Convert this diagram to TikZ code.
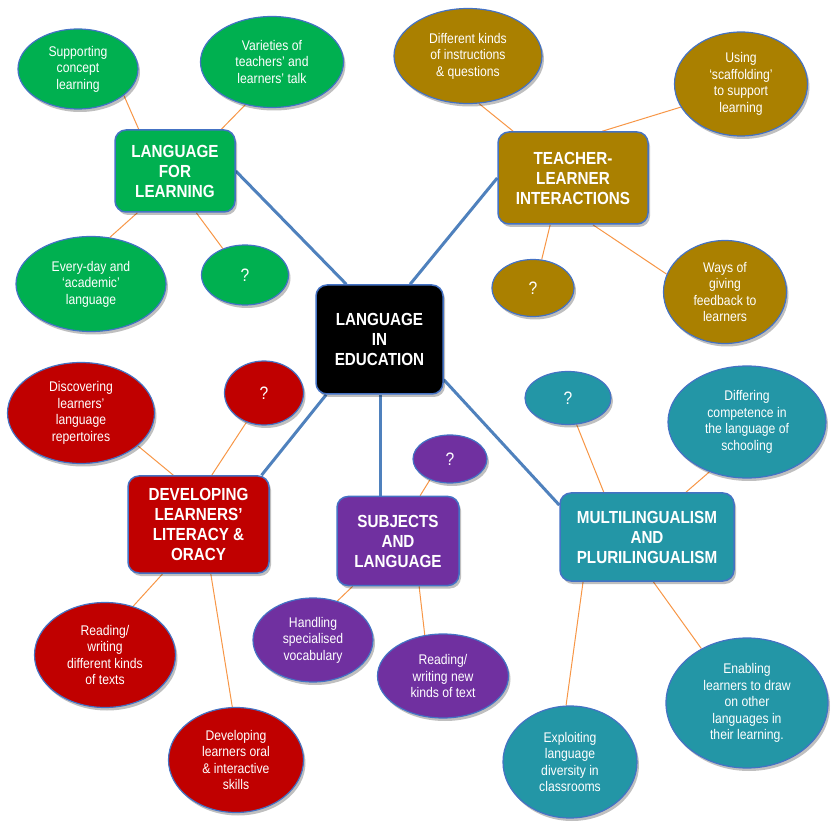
\documentclass[tikz,border=0pt]{standalone}
\usepackage{fontspec}
\setmainfont{Liberation Sans}[FakeStretch=0.87]
\usetikzlibrary{shapes.geometric,shadows,backgrounds}
\definecolor{cgreen}{RGB}{0,176,80}
\definecolor{cgold}{RGB}{170,128,0}
\definecolor{cred}{RGB}{192,0,0}
\definecolor{cpurple}{RGB}{112,48,160}
\definecolor{cteal}{RGB}{35,150,166}
\definecolor{bordblue}{RGB}{68,114,196}
\definecolor{linkblue}{RGB}{79,129,189}
\definecolor{corange}{RGB}{247,150,70}
\tikzset{
  softshadow/.style={drop shadow={shadow xshift=2pt,shadow yshift=-3pt,opacity=0.25,fill=black}},
  bub/.style={ellipse,draw=bordblue,line width=1.2pt,fill=#1,text=white,align=center,
    inner sep=0pt,font=\fontsize{14}{16.5}\selectfont,softshadow},
  qbub/.style={bub=#1,font=\fontsize{18}{20}\selectfont},
  hub/.style={rectangle,rounded corners=11pt,draw=bordblue,line width=1.5pt,fill=#1,text=white,
    align=center,inner sep=0pt,font=\bfseries\fontsize{17.5}{20}\selectfont,softshadow},
  mainlink/.style={draw=linkblue,line width=3pt},
  sublink/.style={draw=corange,line width=1pt},
}
\begin{document}
\begin{tikzpicture}[x=1pt,y=-1pt]
\useasboundingbox (0,0) rectangle (839,826);
% hubs
\node[hub=black,minimum width=127pt,minimum height=109pt] (center) at (379.5,339.5) {LANGUAGE\\IN\\EDUCATION};
\node[hub=cgreen,minimum width=120pt,minimum height=82pt] (lfl) at (175,171) {LANGUAGE\\FOR\\LEARNING};
\node[hub=cgold,minimum width=150pt,minimum height=92pt] (tli) at (573,178) {TEACHER-\\LEARNER\\INTERACTIONS};
\node[hub=cred,minimum width=141pt,minimum height=97pt] (dllo) at (198.5,524.5) {DEVELOPING\\LEARNERS’\\LITERACY \&\\ORACY};
\node[hub=cpurple,minimum width=122pt,minimum height=89pt] (subj) at (398,541) {SUBJECTS\\AND\\LANGUAGE};
\node[hub=cteal,minimum width=174pt,minimum height=88pt] (multi) at (647,537) {MULTILINGUALISM\\AND\\PLURILINGUALISM};
% green bubbles
\node[bub=cgreen,minimum width=120pt,minimum height=80pt] (sup) at (78,69) {Supporting\\concept\\learning};
\node[bub=cgreen,minimum width=143pt,minimum height=91pt] (var) at (272,62) {Varieties of\\teachers' and\\learners' talk};
\node[bub=cgreen,minimum width=150pt,minimum height=95pt] (every) at (91,284) {Every-day and\\‘academic’\\language};
\node[qbub=cgreen,minimum width=87pt,minimum height=60pt] (qa) at (245,275) {?};
% gold bubbles
\node[bub=cgold,minimum width=148pt,minimum height=95pt] (diff) at (468,56) {Different kinds\\of instructions\\\& questions};
\node[bub=cgold,minimum width=133pt,minimum height=104pt] (using) at (741,84) {Using\\‘scaffolding’\\to support\\learning};
\node[qbub=cgold,minimum width=82pt,minimum height=57pt] (qb) at (533,288) {?};
\node[bub=cgold,minimum width=123pt,minimum height=103pt] (ways) at (725,292) {Ways of\\giving\\feedback to\\learners};
% red bubbles
\node[bub=cred,minimum width=147pt,minimum height=101pt] (disc) at (81,413) {Discovering\\learners’\\language\\repertoires};
\node[qbub=cred,minimum width=79pt,minimum height=64pt] (qc) at (264,393) {?};
\node[bub=cred,minimum width=141pt,minimum height=105pt] (readd) at (105,655) {Reading/\\writing\\different kinds\\of texts};
\node[bub=cred,minimum width=135pt,minimum height=105pt] (oral) at (236,760) {Developing\\learners oral\\\& interactive\\skills};
% purple bubbles
\node[qbub=cpurple,minimum width=74pt,minimum height=48pt] (qd) at (450,459) {?};
\node[bub=cpurple,minimum width=120pt,minimum height=84pt] (handl) at (313,640) {Handling\\specialised\\vocabulary};
\node[bub=cpurple,minimum width=131pt,minimum height=84pt] (readn) at (443,676) {Reading/\\writing new\\kinds of text};
% teal bubbles
\node[qbub=cteal,minimum width=86pt,minimum height=53pt] (qe) at (568,398) {?};
\node[bub=cteal,minimum width=158pt,minimum height=112pt] (differ) at (747,422) {Differing\\competence in\\the language of\\schooling};
\node[bub=cteal,minimum width=162pt,minimum height=130pt] (enab) at (747,703) {Enabling\\learners to draw\\on other\\languages in\\their learning.};
\node[bub=cteal,minimum width=134pt,minimum height=112pt] (expl) at (570,762) {Exploiting\\language\\diversity in\\classrooms};
% connectors
\begin{scope}[on background layer]
\draw[mainlink] (center.121) -- (lfl.east);
\draw[mainlink] (center.61) -- (tli.west);
\draw[mainlink] (center.226) -- (dllo.38);
\draw[mainlink] (center.271) -- (center.271 |- subj.north);
\draw[mainlink] (center.-32) -- (multi.160);
\draw[sublink] (lfl.131) -- (sup.-30);
\draw[sublink] (lfl.42) -- (var.238);
\draw[sublink] (lfl.228) -- (every.68);
\draw[sublink] (lfl.-63) -- (qa.130);
\draw[sublink] (tli.142) -- (diff.-77);
\draw[sublink] (tli.58) -- (using.201);
\draw[sublink] (tli.244) -- (qb.73);
\draw[sublink] (tli.-67) -- (ways.163);
\draw[sublink] (dllo.117) -- (disc.-30);
\draw[sublink] (dllo.75) -- (qc.239);
\draw[sublink] (dllo.234) -- (readd.60);
\draw[sublink] (dllo.-76) -- (oral.94);
\draw[sublink] (subj.64) -- (qd.226);
\draw[sublink] (subj.225) -- (handl.58);
\draw[sublink] (subj.-65) -- (readn.114);
\draw[sublink] (multi.134) -- (qe.-72);
\draw[sublink] (multi.49) -- (differ.233);
\draw[sublink] (multi.215) -- (expl.94);
\draw[sublink] (multi.-82) -- (enab.130);
\end{scope}
\end{tikzpicture}
\end{document}
